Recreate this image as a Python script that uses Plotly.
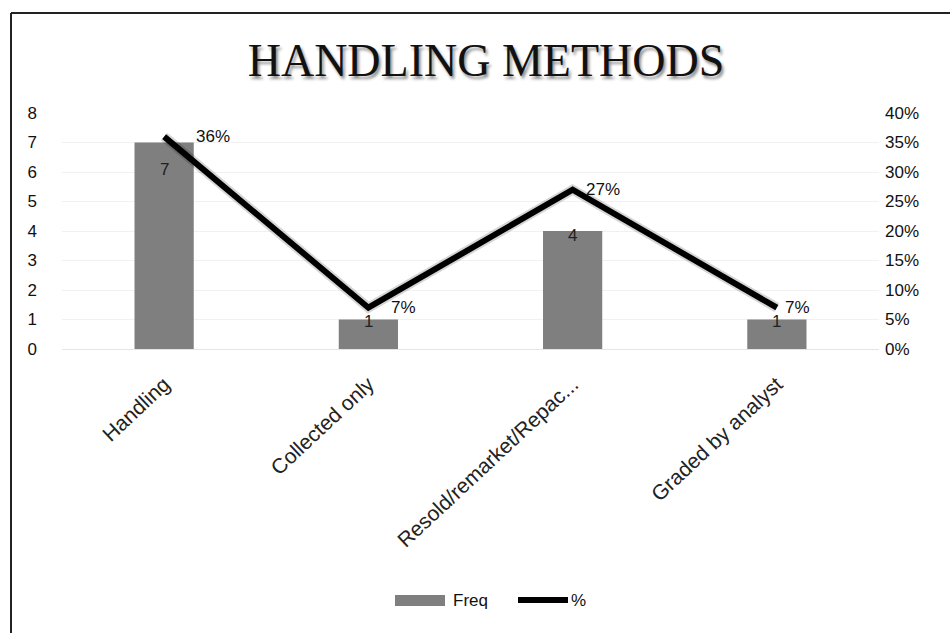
import plotly.graph_objects as go

# Handling methods: frequency counts (bars) and share of responses (line)
categories = ["Handling", "Collected only", "Resold/remarket/Repac...", "Graded by analyst"]
freq = [7, 1, 4, 1]
pct = [0.36, 0.07, 0.27, 0.07]

left_ticks = [0, 1, 2, 3, 4, 5, 6, 7, 8]
right_ticks = [0, 0.05, 0.10, 0.15, 0.20, 0.25, 0.30, 0.35, 0.40]

series_names = ["Freq", "%"]
BAR_COLOR = "#7f7f7f"
LINE_COLOR = "#000000"

W, H = 950, 633
ML, MR, MT, MB = 62, 71, 113, 284
PW, PH = W - ML - MR, H - MT - MB

def px_x(px):
    return (px - ML) / PW

def px_y(py):
    return (H - MB - py) / PH

FONT = "Liberation Sans, Arial, sans-serif"

fig = go.Figure()

fig.add_trace(go.Bar(
    x=categories, y=freq, name=series_names[0],
    marker=dict(color=BAR_COLOR, line=dict(width=0)),
    width=0.29, yaxis="y", hoverinfo="skip", showlegend=False,
))

# soft halo under the line
fig.add_trace(go.Scatter(
    x=categories, y=pct, mode="lines", yaxis="y2",
    line=dict(color="rgba(0,0,0,0.16)", width=10),
    showlegend=False, hoverinfo="skip",
))
fig.add_trace(go.Scatter(
    x=categories, y=pct, name=series_names[1], mode="lines", yaxis="y2",
    line=dict(color=LINE_COLOR, width=6),
    hoverinfo="skip", showlegend=False,
))

annotations = []
bar_label_shift = [-27, -2, -4, -2]
for c, v, s in zip(categories, freq, bar_label_shift):
    annotations.append(dict(
        x=c, y=v, xref="x", yref="y", text=str(v), showarrow=False,
        yshift=s, font=dict(family=FONT, size=17, color="#222222"),
    ))
line_label_shift = [30, 21, 11, 6]
for c, v, s in zip(categories, pct, line_label_shift):
    annotations.append(dict(
        x=c, y=v, xref="x", yref="y2", text=f"{round(v * 100)}%",
        showarrow=False, xanchor="left", xshift=s,
        font=dict(family=FONT, size=17, color="#111111"),
    ))

# legend drawn as a wide swatch row under the chart
legend_y = px_y(600)
annotations += [
    dict(x=px_x(451), y=legend_y, xref="paper", yref="paper", text=series_names[0],
         showarrow=False, xanchor="left", yanchor="middle",
         font=dict(family=FONT, size=17, color="#111111")),
    dict(x=px_x(569), y=legend_y, xref="paper", yref="paper", text=series_names[1],
         showarrow=False, xanchor="left", yanchor="middle",
         font=dict(family=FONT, size=17, color="#111111")),
]

shapes = [
    # frame
    dict(type="line", xref="paper", yref="paper",
         x0=px_x(11), x1=px_x(11), y0=px_y(13), y1=px_y(640),
         line=dict(color="#222222", width=2)),
    dict(type="line", xref="paper", yref="paper",
         x0=px_x(11), x1=px_x(960), y0=px_y(13), y1=px_y(13),
         line=dict(color="#222222", width=2)),
    # legend swatches
    dict(type="rect", xref="paper", yref="paper",
         x0=px_x(395), x1=px_x(445), y0=px_y(606), y1=px_y(595),
         fillcolor=BAR_COLOR, line=dict(width=0)),
    dict(type="line", xref="paper", yref="paper",
         x0=px_x(518), x1=px_x(568), y0=legend_y, y1=legend_y,
         line=dict(color=LINE_COLOR, width=6)),
]

fig.update_layout(
    width=W, height=H,
    margin=dict(l=ML, r=MR, t=MT, b=MB, autoexpand=False),
    paper_bgcolor="white", plot_bgcolor="white",
    title=dict(
        text="HANDLING METHODS", x=486 / W, xanchor="center",
        y=1 - 60 / H, yanchor="middle",
        font=dict(family="Liberation Serif, Times New Roman, serif", size=46,
                  color="#111111", shadow="2px 3px 3px rgba(0,0,0,0.45)"),
    ),
    xaxis=dict(
        type="category", tickangle=-43, showgrid=False, showline=False,
        ticks="", tickfont=dict(family=FONT, size=21, color="#222222"),
        range=[-0.5, 3.5], ticklabelstandoff=18,
    ),
    yaxis=dict(
        range=[0, 8], tickvals=left_ticks, showgrid=True,
        gridcolor="#f1f1f1", gridwidth=1, zeroline=True, zerolinecolor="#e4e4e4",
        zerolinewidth=1, showline=False, ticks="",
        tickfont=dict(family=FONT, size=17, color="#111111"),
        ticklabelstandoff=24,
    ),
    yaxis2=dict(
        range=[0, 0.40], tickvals=right_ticks, tickformat=".0%",
        overlaying="y", side="right", showgrid=False, zeroline=False,
        showline=False, ticks="", ticklabelstandoff=5,
        tickfont=dict(family=FONT, size=17, color="#111111"),
    ),
    annotations=annotations,
    shapes=shapes,
    showlegend=False,
)

fig.write_html("out.html")
